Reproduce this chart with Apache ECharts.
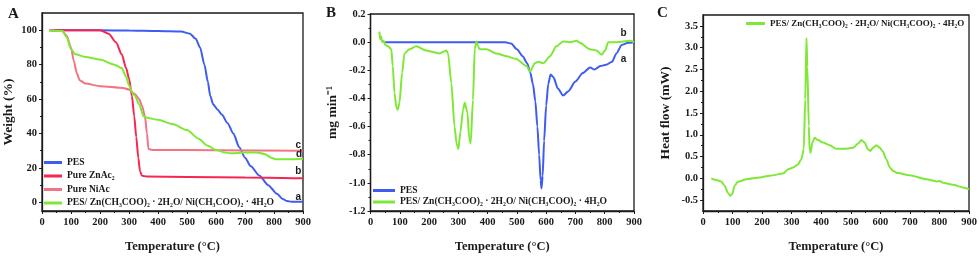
<!DOCTYPE html>
<html><head><meta charset="utf-8">
<script src="https://cdn.jsdelivr.net/npm/echarts@6/dist/echarts.min.js"></script>
<style>html,body{margin:0;padding:0;background:#fff}#c{width:980px;height:258px}</style>
</head><body><div id="c"></div>
<script>
// ---------- DATA ----------
const tempTicks = [0,100,200,300,400,500,600,700,800,900];
const weightTicks = [0,20,40,60,80,100];
const weightMinor = [10,30,50,70,90];
const dtgTicks = [0.2,0.0,-0.2,-0.4,-0.6,-0.8,-1.0,-1.2];
const dtgMinor = [0.1,-0.1,-0.3,-0.5,-0.7,-0.9,-1.1];
const heatTicks = [-0.5,0,0.5,1.0,1.5,2.0,2.5,3.0,3.5];
const heatMinor = [-0.25,0.25,0.75,1.25,1.75,2.25,2.75,3.25];

const nameGreen = 'PES/ Zn(CH₃COO)₂ · 2H₂O/ Ni(CH₃COO)₂ · 4H₂O';
const namePES = 'PES', nameZn = 'Pure ZnAc₂', nameNi = 'Pure NiAc';

// Panel A: TG curves [T (°C), weight %]
const tgPES = [[30,100],[200,100],[300,99.8],[400,99.5],[480,99.2],[510,98],[530,95],[545,90],[560,80],[572,70],[580,62],[590,57],[605,54],[620,51],[640,46],[660,40],[680,32],[700,26],[720,21],[750,15.5],[780,10],[810,5],[830,2],[845,0.8],[860,0.4],[900,0.4]];
const tgZn = [[25,100],[200,100],[230,98],[255,93],[275,86],[290,78],[300,72],[310,62],[318,50],[325,38],[332,26],[338,18],[345,15.5],[360,15],[500,14.8],[700,14.5],[900,14]];
const tgNi = [[25,100],[70,99.5],[85,97],[100,90],[110,82],[120,75],[130,71],[150,69],[200,67.5],[280,66.5],[300,65.5],[320,63],[335,60],[345,56],[355,50],[362,40],[367,31],[380,30.5],[600,30.3],[900,30]];
const tgGreen = [[25,100],[70,99.5],[85,96],[100,89],[115,86],[150,84.5],[200,83],[250,80],[275,78],[290,73],[300,68],[310,64],[320,62],[335,57],[350,50],[365,49],[400,48],[450,45.5],[500,42],[540,37],[570,33],[600,30.5],[630,29],[650,28.5],[700,29],[740,29],[770,28],[790,26],[805,25],[850,25],[900,25.3]];
const labelsA = [['c',884,33.3],['d',886,28],['b',884,18],['a',884,3.2]];

// Panel B: DTG curves [T, mg/min]
const dtgPES = [[50,0],[200,0],[460,0],[480,-0.01],[500,-0.05],[520,-0.1],[535,-0.15],[545,-0.21],[555,-0.3],[563,-0.42],[570,-0.6],[576,-0.8],[581,-0.98],[584,-1.04],[588,-0.95],[593,-0.7],[600,-0.45],[607,-0.3],[615,-0.23],[625,-0.25],[640,-0.33],[658,-0.38],[675,-0.35],[700,-0.28],[725,-0.22],[750,-0.18],[765,-0.195],[785,-0.17],[805,-0.16],[825,-0.14],[840,-0.08],[858,-0.02],[880,-0.005],[900,0]];
const dtgGreen = [[29,0.06],[31,0.07],[33,0.02],[36,0.04],[40,0.0],[45,0.01],[50,-0.02],[60,-0.03],[71,-0.05],[76,-0.17],[82,-0.36],[88,-0.46],[93,-0.48],[99,-0.43],[108,-0.22],[116,-0.08],[133,-0.05],[156,-0.03],[190,-0.06],[213,-0.07],[236,-0.08],[259,-0.06],[265,-0.08],[276,-0.29],[287,-0.6],[294,-0.72],[300,-0.76],[307,-0.64],[316,-0.48],[322,-0.43],[331,-0.5],[337,-0.68],[342,-0.72],[350,-0.41],[356,-0.05],[362,0.005],[367,-0.03],[373,-0.05],[396,-0.05],[430,-0.08],[464,-0.1],[498,-0.12],[533,-0.17],[545,-0.21],[561,-0.15],[573,-0.14],[590,-0.15],[613,-0.1],[635,-0.03],[658,0.005],[681,0.0],[704,0.01],[715,-0.005],[749,-0.05],[772,-0.06],[789,-0.09],[801,-0.06],[812,0.0],[841,0.0],[886,0.01],[900,0.0]];
const labelsB = [['b',864,0.064],['a',864,-0.12]];

// Panel C: DSC curve [T, mW]
const dscGreen = [[28,0.0],[45,-0.04],[62,-0.07],[73,-0.17],[85,-0.34],[92,-0.4],[99,-0.36],[107,-0.17],[118,-0.08],[147,-0.02],[192,0.02],[226,0.06],[271,0.11],[288,0.21],[305,0.25],[321,0.32],[333,0.44],[341,0.67],[346,1.81],[350,3.22],[353,2.57],[358,1.2],[361,0.63],[364,0.59],[370,0.82],[378,0.93],[389,0.88],[406,0.82],[429,0.76],[451,0.68],[485,0.68],[508,0.7],[525,0.8],[536,0.88],[547,0.82],[558,0.67],[566,0.63],[575,0.7],[587,0.76],[598,0.7],[609,0.61],[620,0.44],[632,0.25],[643,0.17],[660,0.12],[699,0.07],[756,-0.02],[790,-0.07],[801,-0.06],[812,-0.1],[846,-0.15],[880,-0.21],[900,-0.25]];

// ---------- STYLE ----------
const F = 'Liberation Serif';
const INK = '#1a1a1a';
const C_BLUE = '#3e5cf0', C_RED = '#f5264f', C_PINK = '#f27384', C_GREEN = '#7fe836';

function xAx(g){
  return {type:'value', gridIndex:g, min:0, max:900, interval:100,
    name:'Temperature (°C)', nameLocation:'middle', nameGap:29,
    nameTextStyle:{fontFamily:F, fontWeight:'bold', fontSize:12.5, color:INK},
    axisLine:{onZero:false, lineStyle:{color:INK, width:1.3}},
    axisTick:{length:3, lineStyle:{color:INK}},
    minorTick:{show:true, splitNumber:2, length:2, lineStyle:{color:INK}},
    axisLabel:{fontFamily:F, fontWeight:'bold', fontSize:10.5, color:INK, margin:6},
    splitLine:{show:false}};
}
function yAx(g,min,max,ticks,fmt,name,gap){
  return {type:'value', gridIndex:g, min:min, max:max,
    name:name, nameLocation:'middle', nameGap:gap,
    nameTextStyle:{fontFamily:F, fontWeight:'bold', fontSize:13.5, color:INK},
    axisLine:{onZero:false, lineStyle:{color:INK, width:1.3}},
    axisTick:{length:3, customValues:ticks, lineStyle:{color:INK}},
    axisLabel:{fontFamily:F, fontWeight:'bold', fontSize:10.5, color:INK, margin:5, customValues:ticks, formatter:fmt},
    splitLine:{show:false}};
}
function yMinor(g,min,max,ticks){
  return {type:'value', gridIndex:g, min:min, max:max, position:'left',
    axisLine:{show:false}, axisLabel:{show:false}, splitLine:{show:false},
    axisTick:{show:true, length:2, customValues:ticks, lineStyle:{color:INK}}};
}
function line(name,data,color,xi,yi,labels){
  const s = {type:'line', name:name, data:data, xAxisIndex:xi, yAxisIndex:yi,
    symbol:'none', smooth:0.25, smoothMonotone:'x',
    lineStyle:{color:color, width:2}, itemStyle:{color:color}};
  if(labels){
    s.markPoint = {symbol:'circle', symbolSize:1, itemStyle:{color:'rgba(0,0,0,0)'},
      label:{show:true, position:'inside', fontFamily:'Liberation Sans', fontWeight:'bold', fontSize:10, color:INK, formatter:p=>p.name},
      data:labels.map(l=>({name:l[0], coord:[l[1],l[2]]}))};
  }
  return s;
}
const legText = {fontFamily:F, fontWeight:'bold', fontSize:9.6, color:INK, lineHeight:11};
const legTextC = {fontFamily:F, fontWeight:'bold', fontSize:9, color:INK, lineHeight:11};

const chart = echarts.init(document.getElementById('c'), null, {renderer:'canvas'});
chart.setOption({
  animation:false,
  backgroundColor:'#fff',
  title:[
    {text:'A', left:3, top:2, textStyle:{fontFamily:F, fontWeight:'bold', fontSize:15, color:INK}},
    {text:'B', left:321, top:1, textStyle:{fontFamily:F, fontWeight:'bold', fontSize:15, color:INK}},
    {text:'C', left:652, top:1, textStyle:{fontFamily:F, fontWeight:'bold', fontSize:15, color:INK}}
  ],
  grid:[
    {left:42, top:13, width:261, height:200, show:true, borderColor:INK, borderWidth:1.3, backgroundColor:'transparent'},
    {left:370.5, top:14, width:263.5, height:200, show:true, borderColor:INK, borderWidth:1.3, backgroundColor:'transparent'},
    {left:703, top:15, width:266, height:197, show:true, borderColor:INK, borderWidth:1.3, backgroundColor:'transparent'}
  ],
  xAxis:[xAx(0), xAx(1), xAx(2)],
  yAxis:[
    yAx(0,-5,110,weightTicks,v=>String(Math.round(v)),'Weight (%)',26),
    yMinor(0,-5,110,weightMinor),
    yAx(1,-1.2,0.2,dtgTicks,v=>v.toFixed(1),'mg min⁻¹',31),
    yMinor(1,-1.2,0.2,dtgMinor),
    yAx(2,-0.75,3.75,heatTicks,v=>v.toFixed(1),'Heat flow (mW)',30),
    yMinor(2,-0.75,3.75,heatMinor)
  ],
  legend:[
    {data:[namePES,nameZn,nameNi,nameGreen], orient:'vertical', left:44, top:157, itemWidth:18, itemHeight:3, icon:'rect', itemGap:2.5, padding:0, textStyle:legText},
    {data:[namePES,nameGreen], orient:'vertical', left:373, top:185, itemWidth:22, itemHeight:3, icon:'rect', itemGap:0.5, padding:0, textStyle:legText},
    {data:[nameGreen], orient:'vertical', left:746, top:18, itemWidth:19, itemHeight:3, icon:'rect', padding:0, textStyle:legTextC}
  ],
  series:[
    line(namePES, tgPES, C_BLUE, 0, 0, labelsA),
    line(nameZn, tgZn, C_RED, 0, 0),
    line(nameNi, tgNi, C_PINK, 0, 0),
    line(nameGreen, tgGreen, C_GREEN, 0, 0),
    line(namePES, dtgPES, C_BLUE, 1, 2, labelsB),
    line(nameGreen, dtgGreen, C_GREEN, 1, 2),
    line(nameGreen, dscGreen, C_GREEN, 2, 4)
  ]
});
</script></body></html>
